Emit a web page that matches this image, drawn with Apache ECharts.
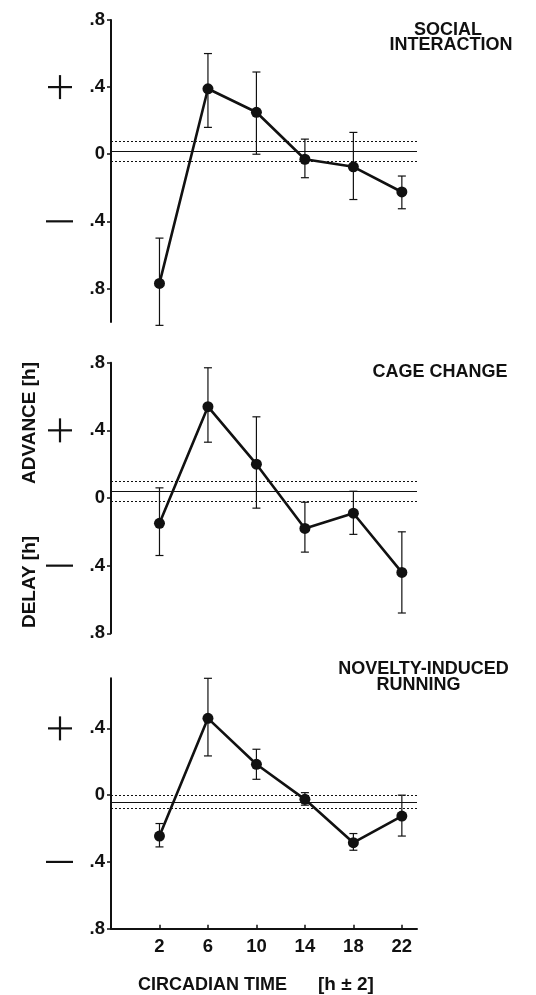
<!DOCTYPE html>
<html><head><meta charset="utf-8">
<script src="https://cdn.jsdelivr.net/npm/echarts@6/dist/echarts.min.js"></script>
<style>html,body{margin:0;padding:0;background:#fff}#c{width:536px;height:995px}</style>
</head><body><div id="c"></div>
<script>
// ---- data ----
const circadianTimes = [2, 6, 10, 14, 18, 22];
const yTickValues = [0.8, 0.4, 0, -0.4, -0.8];

const socialMean = [-0.77, 0.39, 0.25, -0.03, -0.075, -0.225];
const socialHigh = [-0.50, 0.60, 0.49, 0.09, 0.13, -0.13];
const socialLow  = [-1.02, 0.16, 0.00, -0.14, -0.27, -0.325];
const socialRef  = [0.02, 0.08, -0.04];   // mean, upper, lower

const cageMean = [-0.15, 0.54, 0.20, -0.18, -0.09, -0.44];
const cageHigh = [0.06, 0.77, 0.48, -0.025, 0.04, -0.20];
const cageLow  = [-0.34, 0.33, -0.06, -0.32, -0.215, -0.68];
const cageRef  = [0.04, 0.10, -0.02];

const noveltyMean = [-0.245, 0.46, 0.185, -0.025, -0.285, -0.125];
const noveltyHigh = [-0.17, 0.70, 0.275, 0.015, -0.23, 0.0];
const noveltyLow  = [-0.31, 0.235, 0.095, -0.06, -0.33, -0.245];
const noveltyRef  = [-0.045, 0.0, -0.08];

const panelTitles = [['SOCIAL', 'INTERACTION'], ['CAGE CHANGE'], ['NOVELTY-INDUCED', 'RUNNING']];

// ---- chart ----
const FONT = "'Liberation Sans', Arial, sans-serif";
const INK = '#111';
const panels = [
  {mean: socialMean, hi: socialHigh, lo: socialLow, ref: socialRef, min: -1.0, max: 0.8, top: 20, height: 302},
  {mean: cageMean, hi: cageHigh, lo: cageLow, ref: cageRef, min: -0.8, max: 0.8, top: 362.7, height: 270.6},
  {mean: noveltyMean, hi: noveltyHigh, lo: noveltyLow, ref: noveltyRef, min: -0.8, max: 0.7, top: 678.3, height: 250.4}
];

function yLabel(v) {
  const a = Math.abs(v);
  if (a < 1e-9) return '0';
  return '.' + Math.round(a * 10);
}

function errorBarItem(params, api) {
  const x = api.value(0), lo = api.value(1), hi = api.value(2);
  const pLo = api.coord([x, lo]), pHi = api.coord([x, hi]);
  const hw = 4;
  const st = {stroke: INK, lineWidth: 1.2};
  return {type: 'group', children: [
    {type: 'line', shape: {x1: pHi[0], y1: pHi[1], x2: pLo[0], y2: pLo[1]}, style: st},
    {type: 'line', shape: {x1: pHi[0] - hw, y1: pHi[1], x2: pHi[0] + hw, y2: pHi[1]}, style: st},
    {type: 'line', shape: {x1: pLo[0] - hw, y1: pLo[1], x2: pLo[0] + hw, y2: pLo[1]}, style: st}
  ]};
}

const grid = [], xAxis = [], yAxis = [], series = [];
panels.forEach((p, i) => {
  grid.push({left: 111, width: 306, top: p.top, height: p.height});
  const isBottom = i === panels.length - 1;
  xAxis.push({
    type: 'value', gridIndex: i, min: -2, max: 23.25, interval: 4,
    show: isBottom,
    splitLine: {show: false},
    axisLine: {show: isBottom, onZero: false, lineStyle: {color: INK, width: 2}},
    axisTick: {show: isBottom, customValues: circadianTimes, inside: true, length: 4, lineStyle: {color: INK, width: 1.5}},
    axisLabel: {show: isBottom, customValues: circadianTimes, margin: 9, color: INK,
      fontFamily: FONT, fontWeight: 'bold', fontSize: 18.5,
      formatter: v => (circadianTimes.indexOf(v) >= 0 ? String(v) : '')}
  });
  const ticks = yTickValues.filter(v => v >= p.min - 1e-9 && v <= p.max + 1e-9);
  yAxis.push({
    type: 'value', gridIndex: i, min: p.min, max: p.max, interval: 0.2,
    splitLine: {show: false},
    axisLine: {show: true, onZero: false, lineStyle: {color: INK, width: 2}},
    axisTick: {show: true, customValues: ticks, length: 4, lineStyle: {color: INK, width: 1.5}},
    axisLabel: {customValues: ticks, margin: 6, color: INK, fontFamily: FONT, fontWeight: 'bold', fontSize: 18.5,
      formatter: v => (Math.round(Math.abs(v) * 10) % 4 === 0 ? yLabel(v) : '')}
  });
  series.push({
    type: 'custom', xAxisIndex: i, yAxisIndex: i, renderItem: errorBarItem, clip: false, z: 3,
    encode: {x: 0, y: [1, 2]},
    data: circadianTimes.map((t, k) => [t, p.lo[k], p.hi[k]])
  });
  series.push({
    type: 'line', xAxisIndex: i, yAxisIndex: i, z: 5,
    data: circadianTimes.map((t, k) => [t, p.mean[k]]),
    symbol: 'circle', symbolSize: 11, showSymbol: true,
    lineStyle: {color: INK, width: 2.6}, itemStyle: {color: INK},
    markLine: {
      silent: true, symbol: 'none', label: {show: false},
      lineStyle: {color: INK, width: 1},
      data: [
        {yAxis: p.ref[0], lineStyle: {type: 'solid', width: 1.2}},
        {yAxis: p.ref[1], lineStyle: {type: [2, 2]}},
        {yAxis: p.ref[2], lineStyle: {type: [2, 2]}}
      ]
    }
  });
});

const chart = echarts.init(document.getElementById('c'), null, {renderer: 'canvas'});
chart.setOption({
  animation: false,
  backgroundColor: '#fff',
  grid, xAxis, yAxis, series
});

// decorations: titles, axis titles, +/- signs
const tStyle = (txt, size, align) => ({text: txt, fontFamily: FONT, fontWeight: 'bold', fontSize: size, fill: INK, align: align || 'center', verticalAlign: 'middle'});
const graphic = [
  {type: 'text', x: 448, y: 30, style: tStyle(panelTitles[0][0], 18)},
  {type: 'text', x: 451, y: 45, style: tStyle(panelTitles[0][1], 18)},
  {type: 'text', x: 440, y: 372, style: tStyle(panelTitles[1][0], 18)},
  {type: 'text', x: 423.5, y: 669, style: tStyle(panelTitles[2][0], 18)},
  {type: 'text', x: 418.5, y: 685, style: tStyle(panelTitles[2][1], 18)},
  {type: 'text', x: 30, y: 423, rotation: Math.PI / 2, style: tStyle('ADVANCE [h]', 19)},
  {type: 'text', x: 30, y: 582, rotation: Math.PI / 2, style: tStyle('DELAY [h]', 19)},
  {type: 'text', x: 138, y: 985, style: tStyle('CIRCADIAN TIME', 18, 'left')},
  {type: 'text', x: 318, y: 985, style: tStyle('[h ± 2]', 19, 'left')}
];
panels.forEach((p, i) => {
  const yp = chart.convertToPixel({yAxisIndex: i}, 0.4);
  const ym = chart.convertToPixel({yAxisIndex: i}, -0.4);
  const st = {stroke: INK, lineWidth: 2.2};
  graphic.push({type: 'line', shape: {x1: 48, y1: yp, x2: 72, y2: yp}, style: st});
  graphic.push({type: 'line', shape: {x1: 60, y1: yp - 12, x2: 60, y2: yp + 12}, style: st});
  graphic.push({type: 'line', shape: {x1: 46, y1: ym, x2: 73, y2: ym}, style: st});
});
chart.setOption({graphic});
</script>
</body></html>
